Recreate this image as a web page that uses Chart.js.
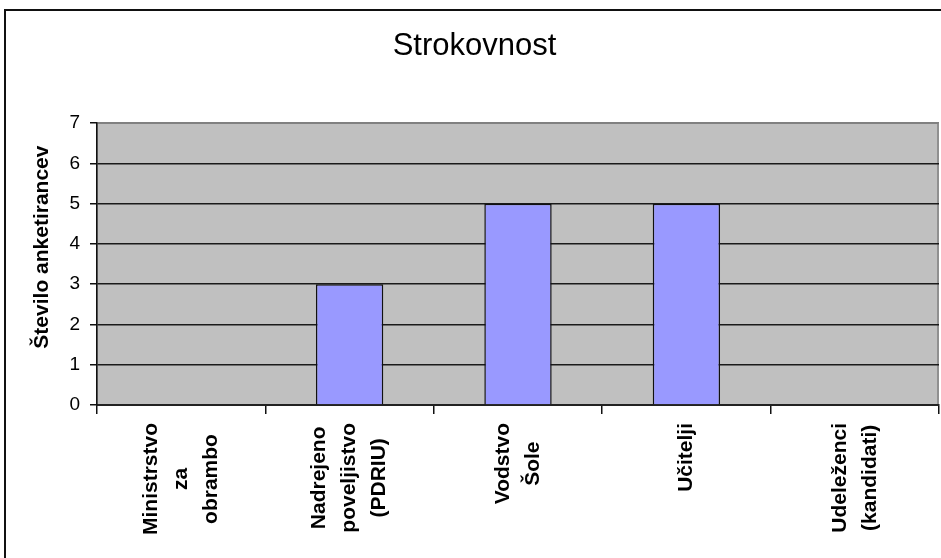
<!DOCTYPE html>
<html>
<head>
<meta charset="utf-8">
<title>Strokovnost</title>
<script src="https://cdn.jsdelivr.net/npm/chart.js@4.4.1/dist/chart.umd.min.js"></script>
<style>
  html, body { margin: 0; padding: 0; background: #fff; }
  canvas { display: block; }
</style>
</head>
<body>
<canvas id="strokovnostChart" width="941" height="558"></canvas>
<script>
// chart data
const categories = [
  ['Ministrstvo', 'za', 'obrambo'],
  ['Nadrejeno', 'poveljistvo', '(PDRIU)'],
  ['Vodstvo', 'Šole'],
  ['Učitelji'],
  ['Udeleženci', '(kandidati)']
];
const respondents = [0, 3, 5, 5, 0];
const yTicks = [0, 1, 2, 3, 4, 5, 6, 7];
const chartTitle = 'Strokovnost';
const yTitle = 'Število anketirancev';

const FONT = '"Liberation Sans", Arial, sans-serif';

// grey plot area + outer frame like the Excel original
const plotBackground = {
  id: 'plotBackground',
  beforeDraw(chart) {
    const { ctx, chartArea } = chart;
    ctx.save();
    ctx.strokeStyle = '#111';
    ctx.lineWidth = 2;
    ctx.strokeRect(5, 10, 980, 600);
    ctx.fillStyle = '#c0c0c0';
    ctx.fillRect(chartArea.left, chartArea.top, chartArea.right - chartArea.left, chartArea.bottom - chartArea.top);
    ctx.strokeStyle = '#808080';
    ctx.lineWidth = 1.5;
    ctx.strokeRect(chartArea.left, chartArea.top, chartArea.right - chartArea.left - 1, chartArea.bottom - chartArea.top);
    ctx.restore();
  }
};

// rotated, centred multi-line category labels and the y axis title
const axisText = {
  id: 'axisText',
  afterDraw(chart) {
    const { ctx, chartArea } = chart;
    const xScale = chart.scales.x;
    ctx.save();
    ctx.fillStyle = '#000';
    ctx.font = 'bold 21px ' + FONT;
    ctx.textAlign = 'center';
    ctx.textBaseline = 'middle';
    const lineGap = 30;
    categories.forEach((lines, i) => {
      const x = xScale.getPixelForValue(i);
      const maxW = Math.max(...lines.map(l => ctx.measureText(l).width));
      const cy = chartArea.bottom + 18 + maxW / 2;
      lines.forEach((line, j) => {
        const lx = x + (j - (lines.length - 1) / 2) * lineGap;
        ctx.save();
        ctx.translate(lx, cy);
        ctx.rotate(-Math.PI / 2);
        ctx.fillText(line, 0, 0);
        ctx.restore();
      });
    });

    ctx.font = 'bold 21px ' + FONT;
    ctx.save();
    ctx.translate(42, (chartArea.top + chartArea.bottom) / 2 - 17);
    ctx.rotate(-Math.PI / 2);
    ctx.fillText(yTitle, 0, 0);
    ctx.restore();
    ctx.restore();
  }
};

const ctx = document.getElementById('strokovnostChart').getContext('2d');
const strokovnostChart = new Chart(ctx, {
  type: 'bar',
  data: {
    labels: categories.map(c => c.join(' ')),
    datasets: [{
      data: respondents,
      backgroundColor: '#9999ff',
      borderColor: '#111',
      borderWidth: 1.5,
      barPercentage: 0.4,
      categoryPercentage: 1
    }]
  },
  options: {
    responsive: false,
    animation: false,
    layout: { padding: { top: 8, left: 10, right: 2, bottom: 0 } },
    plugins: {
      legend: { display: false },
      tooltip: { enabled: false },
      title: {
        display: true,
        text: chartTitle,
        color: '#000',
        font: { family: FONT, size: 31, weight: 'normal' },
        padding: { top: 20, bottom: 58 }
      }
    },
    scales: {
      x: {
        offset: true,
        grid: {
          offset: true,
          drawOnChartArea: false,
          drawTicks: true,
          tickLength: 9,
          color: '#111',
          lineWidth: 1.5
        },
        border: { color: '#222', width: 2 },
        ticks: { display: false },
        afterFit(scale) { scale.height = 153; }
      },
      y: {
        min: 0,
        max: 7,
        afterBuildTicks(scale) { scale.ticks = yTicks.map(v => ({ value: v })); },
        grid: {
          color: ctx => ctx.tick && ctx.tick.value === 7 ? '#808080' : '#1a1a1a',
          tickColor: '#111',
          lineWidth: 1.5,
          tickLength: 7
        },
        border: { color: '#111', width: 1.5 },
        ticks: {
          color: '#000',
          padding: 10,
          font: { family: FONT, size: 19 }
        },
        afterFit(scale) { scale.width = 87; }
      }
    }
  },
  plugins: [plotBackground, axisText]
});
</script>
</body>
</html>
